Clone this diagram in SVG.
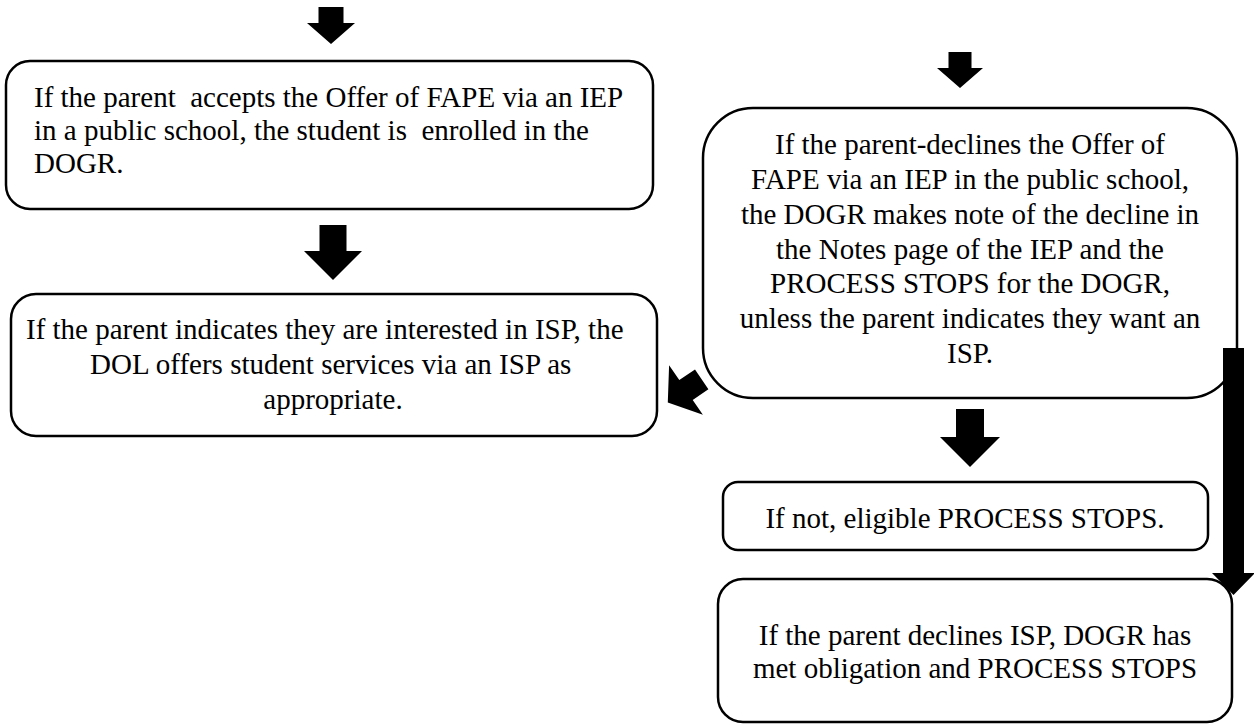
<svg xmlns="http://www.w3.org/2000/svg" width="1254" height="726" viewBox="0 0 1254 726">
<style>
.box{fill:#fff;stroke:#000;stroke-width:2.5}
.t{font-size:29px;fill:#000}
.c{text-anchor:middle}
.arr{fill:#000;stroke:none}
</style>
<rect width="1254" height="726" fill="#fff"/>
<g font-family="Liberation Serif, DejaVu Serif, Times New Roman, serif">
<g id="node-accept">
<rect class="box" x="6" y="61" width="647" height="148" rx="24"/>
<text class="t" xml:space="preserve" x="34" y="107">If the parent  accepts the Offer of FAPE via an IEP</text>
<text class="t" xml:space="preserve" x="34" y="140">in a public school, the student is  enrolled in the</text>
<text class="t" x="34" y="173">DOGR.</text>
</g>
<g id="node-isp">
<rect class="box" x="11" y="294" width="646" height="142" rx="25"/>
<text class="t" x="26" y="339">If the parent indicates they are interested in ISP, the</text>
<text class="t" x="90" y="374">DOL offers student services via an ISP as</text>
<text class="t c" x="333" y="409">appropriate.</text>
</g>
<g id="node-decline">
<rect class="box" x="703" y="108" width="534" height="290" rx="50"/>
<text class="t c" x="970" y="154">If the parent-declines the Offer of</text>
<text class="t c" x="970" y="189">FAPE via an IEP in the public school,</text>
<text class="t c" x="970" y="224">the DOGR makes note of the decline in</text>
<text class="t c" x="970" y="259">the Notes page of the IEP and the</text>
<text class="t c" x="970" y="293">PROCESS STOPS for the DOGR,</text>
<text class="t c" x="970" y="328">unless the parent indicates they want an</text>
<text class="t c" x="970" y="363">ISP.</text>
</g>
<g id="node-not-eligible">
<rect class="box" x="723" y="482" width="485" height="68" rx="15"/>
<text class="t c" x="965" y="528">If not, eligible PROCESS STOPS.</text>
</g>
<g id="node-decline-isp">
<rect class="box" x="718" y="579" width="514" height="143" rx="25"/>
<text class="t c" x="975" y="645">If the parent declines ISP, DOGR has</text>
<text class="t c" x="975" y="678">met obligation and PROCESS STOPS</text>
</g>
</g>
<g id="connectors">
<polygon class="arr" points="318.5,7 343.5,7 343.5,23 355,23 331,44 307,23 318.5,23"/>
<polygon class="arr" points="319.5,225 346.5,225 346.5,251 362,251 333,280 304,251 319.5,251"/>
<polygon class="arr" points="948.5,52 971.5,52 971.5,68 983,68 960,88 937,68 948.5,68"/>
<polygon class="arr" points="956,409 984,409 984,437 1000,437 970,467 940,437 956,437"/>
<polygon class="arr" points="667.8,402.4 669.1,365.2 679.3,380.1 695,369.4 708.4,389.2 692.7,399.9 702.9,414.8"/>
<polygon class="arr" points="1223,348 1244,348 1244,573 1255,573 1233.5,595 1212,573 1223,573"/>
</g>
</svg>
